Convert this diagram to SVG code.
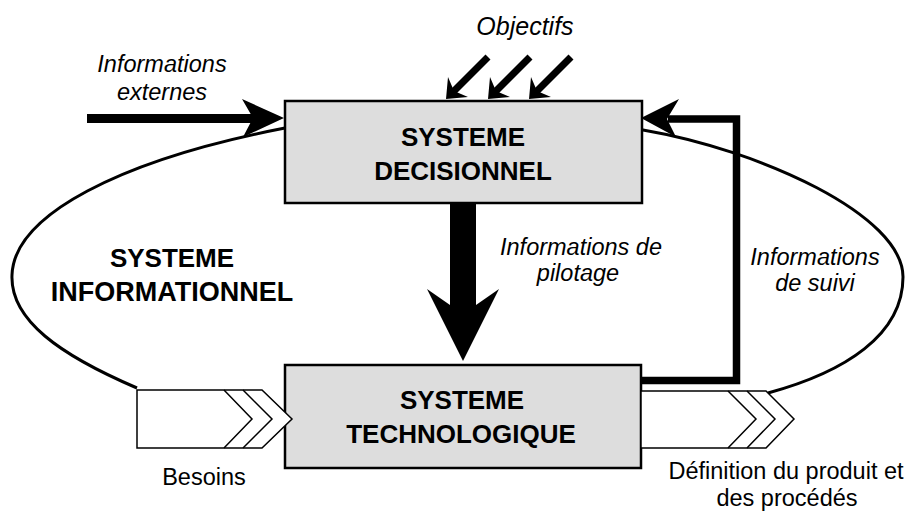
<svg xmlns="http://www.w3.org/2000/svg" xmlns:xlink="http://www.w3.org/1999/xlink" width="906" height="516" viewBox="0 0 906 516">
<style>
.box{fill:#dddddd;stroke:#000;stroke-width:2.5}
.chev{fill:#fff;stroke:#000;stroke-width:1.5;stroke-linejoin:miter}
.chevl{fill:none;stroke:#000;stroke-width:1.5}
.title{font-family:"Liberation Sans",Arial,sans-serif;font-weight:bold;font-size:26px;text-anchor:middle;fill:#000}
.lab{font-family:"Liberation Sans",Arial,sans-serif;font-style:italic;font-size:23.5px;text-anchor:middle;fill:#000}
.reg{font-family:"Liberation Sans",Arial,sans-serif;font-size:23.5px;text-anchor:middle;fill:#000}
.thick{fill:none;stroke:#000}
</style>
<defs>
<g id="objArrow">
<line x1="42" y1="-42" x2="7" y2="-7" stroke="#000" stroke-width="7"/>
<polygon points="0,0 2,-22 8,-8 22,-2" fill="#000"/>
</g>
</defs>
<g id="ellipse">
<path d="M137,388 C60,355 10,320 12,275 C14,215 120,160 285,128 Q463,105 643,130 C760,150 903,215 903,277 C903,335 845,372 768,393" fill="none" stroke="#000" stroke-width="3"/>
</g>
<g id="connectors">
<path class="thick" d="M87,118.5 H256" stroke-width="9"/>
<polygon points="284,118 242,99 253,118 243,137" fill="#000"/>
<path class="thick" d="M641,380.5 H736.5 V119 H668" stroke-width="7.5" stroke-linejoin="miter"/>
<polygon points="641,118 679,99 667,119 676,137" fill="#000"/>
<polygon points="450,203 476,203 476,305 499,289 463,361 427,289 450,305" fill="#000"/>
<use xlink:href="#objArrow" transform="translate(446,99)"/>
<use xlink:href="#objArrow" transform="translate(488,99)"/>
<use xlink:href="#objArrow" transform="translate(529,99)"/>
</g>
<g id="decisionnel">
<rect class="box" x="285" y="101" width="357" height="102"/>
<text class="title" x="463" y="146">SYSTEME</text>
<text class="title" x="463" y="180">DECISIONNEL</text>
</g>
<g id="technologique">
<rect class="box" x="285" y="365" width="356" height="103"/>
<text class="title" x="462" y="409">SYSTEME</text>
<text class="title" x="461" y="443">TECHNOLOGIQUE</text>
</g>
<g id="besoins">
<polygon class="chev" points="137,390 262,390 292,419 262,448 137,448"/>
<polyline class="chevl" points="224,390 252,419 224,448"/>
<polyline class="chevl" points="243,390 272,419 243,448"/>
<text class="reg" x="204" y="485">Besoins</text>
</g>
<g id="definition">
<polygon class="chev" points="641,391 766,391 794,419 766,448 641,448"/>
<polyline class="chevl" points="728,391 756,419 728,448"/>
<polyline class="chevl" points="747,391 775,419 747,448"/>
<text class="reg" x="786" y="479">Définition du produit et</text>
<text class="reg" x="787" y="506">des procédés</text>
</g>
<g id="informationnel">
<text class="title" x="172" y="267" font-size="27">SYSTEME</text>
<text class="title" x="172" y="301" font-size="27" style="font-size:27px">INFORMATIONNEL</text>
</g>
<g id="labels">
<text class="lab" x="525" y="35" style="font-size:25px">Objectifs</text>
<text class="lab" x="162" y="72">Informations</text>
<text class="lab" x="162" y="100">externes</text>
<text class="lab" x="581" y="255">Informations de</text>
<text class="lab" x="578" y="281">pilotage</text>
<text class="lab" x="815" y="265">Informations</text>
<text class="lab" x="815" y="291">de suivi</text>
</g>
</svg>
